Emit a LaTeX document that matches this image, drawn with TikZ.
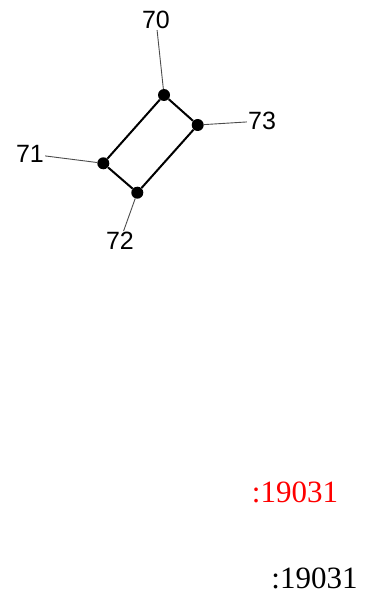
\documentclass[tikz,border=0pt]{standalone}
\usepackage{fontspec}
\setmainfont{Liberation Serif}
\newfontfamily\labelfont{Liberation Sans}
\usepackage{xcolor}
\usetikzlibrary{arrows.meta, positioning}
\tikzset{
  atom/.style={circle, fill=black, minimum size=12pt, inner sep=0pt},
  tag/.style={font=\labelfont\fontsize{25}{25}\selectfont, inner sep=1pt},
  leader/.style={draw=black!70, line width=0.9pt},
  bond/.style={line width=2pt},
  code/.style={font=\fontsize{31}{31}\selectfont, inner sep=0pt},
}

\begin{document}
\begin{tikzpicture}[x=1pt, y=-1pt]
\useasboundingbox (0,0) rectangle (369,604);
% ring
\node[atom] (p70) at (164,95) {};
\node[atom] (p73) at (197.7,125) {};
\node[atom] (p72) at (137.3,192.7) {};
\node[atom] (p71) at (103.3,163.3) {};
\draw[bond] (p70) -- (p73) -- (p72) -- (p71) -- (p70);
% labels
\node[tag] (l70) at (156,20) {70};
\node[tag] (l73) at (262,121) {73};
\node[tag] (l71) at (30,154) {71};
\node[tag] (l72) at (120,241) {72};
\draw[leader] (l70) -- (p70);
\draw[leader] (l73) -- (p73);
\draw[leader] (l71) -- (p71);
\draw[leader] (l72) -- (p72);
% codes
\node[code, text=red] (c1) at (295,492) {:19031};
\node[code] (c2) at (314.5,578) {:19031};
\end{tikzpicture}
\end{document}
